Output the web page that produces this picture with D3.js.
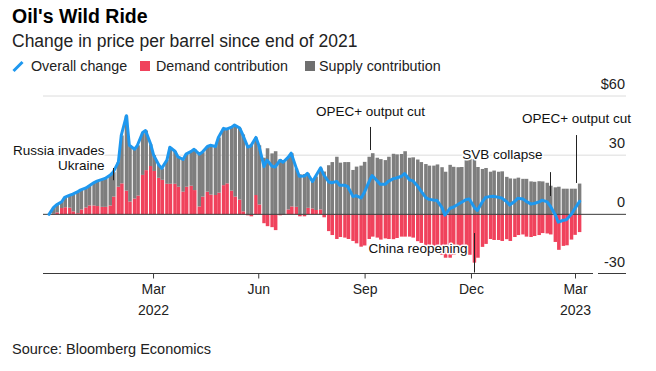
<!DOCTYPE html>
<html><head><meta charset="utf-8">
<script src="https://cdn.jsdelivr.net/npm/d3@7"></script>
<style>
body{margin:0;background:#fff;}
svg{display:block;font-family:"Liberation Sans",Arial,Helvetica,sans-serif;}
</style></head><body>
<svg id="c" width="656" height="371"></svg>
<script>
// ---------- DATA (two readings per week: Mon-Wed, Thu-Fri), $ per barrel vs end-2021 ----------
const startDate = "2021-12-31";      // origin, change = 0
const firstMonday = "2022-01-03";
const overall = [
 3.5,4.8, 6.4,8.6, 9.7,10.2, 11.5,12.4, 13.4,14.4, 16.1,16.8, 17.7,18.2, 19.9,21.4,
 26.5,40, 50,35, 33,35, 41.5,42.5, 35.5,30, 25,23.3, 27.5,34, 32,29.2,
 27.8,30.5, 31.9,33, 30.5,31.5, 34.4,35, 34.4,39, 43.6,43.2, 44.2,45.3, 43.7,40.5,
 34.1,34.6, 39,35, 24.2,27.5, 24.4,24, 27.4,26.4, 29,31, 23.3,19.3, 19.4,20.8,
 16.6,19.2, 23.6,20.2, 16.4,16, 16.7,14.7, 14.7,14, 9,9.5, 8.3,10.8, 16.7,19.7,
 16.9,15.2, 15.3,16.7, 18.1,18.4, 19.3,20.7, 17.4,17.1, 14.2,12, 8.5,7.6, 7.2,7.1,
 3.4,-0.4, 3.1,3.6, 5.1,6, 7.5,7.8, 3.5,2, 6.5,8.5, 9.1,9.2, 8.6,8.3,
 6.4,4.7, 6.6,8.1, 7.8,6.7, 5.2,5.5, 6.3,7.2, 6.3,4.3, -0.3,-4, -3,-2.7,
 0.2,2.6, 6.6
];
const demand = [
 0.3,1.0, 3.2,3.6, 3.4,1.5, 0.6,2.5, 3.5,4.5, 4.5,4.2, 3.8,3.8, 4.5,9,
 14,15.7, 12,6.5, 8,9.5, 20,22.4, 24.5,22, 18.5,17.5, 15.5,15.5, 15.5,14,
 11.5,14, 14.5,12.3, 4,9, 11.5,10, 9.8,11, 14.8,15.7, 12,9, 7.5,1.5,
 -0.5,-1, 9.8,5, -4.5,-6, -6.5,-8, -0.5,-0.3, 2.5,4, 3.8,-1, -1,3.3,
 3,2.2, 2.5,-1.5, -8.5,-10.5, -12.5,-11.5, -11.8,-12.5, -13.5,-14.7, -16.4,-15.8, -12.5,-11.3,
 -11.8,-12.8, -12.2,-12.5, -12.6,-12, -11.3,-11.3, -11.3,-11.8, -13.6,-14.5, -17,-17.1, -17.5,-18.2,
 -20.5,-22, -22,-20.5, -18.8,-18, -20,-20.5, -24.5,-22, -16.5,-15, -12.5,-13, -13,-13.5,
 -12.6,-13.5, -11.5,-10.5, -10.2,-11.3, -11.5,-11, -10.5,-9.5, -9.7,-10.2, -14,-18, -16,-15.7,
 -12.8,-10.4, -9
];
const seriesNames = ["Overall change","Demand contribution","Supply contribution"];
const tickDates = ["2022-03-31","2022-06-30","2022-09-30","2022-12-31","2023-03-31"];
const tickMonths = ["Mar","Jun","Sep","Dec","Mar"];
const tickYears = ["2022","","","","2023"];
const yTicks = [60,30,0,-30];
const yTickLabels = ["$60","30","0","-30"];
const events = [
  {date:"2022-02-24", lines:["Russia invades","Ukraine"], v0:23.5, v1:17.3},
  {date:"2022-10-05", lines:["OPEC+ output cut"], v0:44.3, v1:32.6},
  {date:"2023-01-03", lines:["China reopening"], v0:-9.5, v1:-29.5},
  {date:"2023-03-09", lines:["SVB collapse"], v0:21.4, v1:9.3},
  {date:"2023-04-01", lines:["OPEC+ output cut"], v0:40.2, v1:15.9}
];

// ---------- SETUP ----------
const parse = d3.timeParse("%Y-%m-%d");
const svg = d3.select("#c");
const colors = {overall:"#1e98ef", demand:"#f0425c", supply:"#7e7e7e"};

const x = d3.scaleTime().domain([parse(startDate), parse("2023-03-31")]).range([49, 575]);
const y = d3.scaleLinear().domain([-30, 60]).range([273.5, 96]);

const mon0 = parse(firstMonday);
const rows = overall.map((o, i) => {
  const k = Math.floor(i / 2), half = i % 2;
  const wk = d3.timeDay.offset(mon0, 7 * k);
  const center = half ? d3.timeHour.offset(wk, 84) : d3.timeHour.offset(wk, 24);
  const s = half ? d3.timeHour.offset(wk, 60) : d3.timeHour.offset(wk, -12);
  const e = half ? d3.timeHour.offset(wk, 4*24 + 12 + 26) : d3.timeHour.offset(wk, 60);
  return {date: center, start: s, end: e, overall: o, demand: demand[i], supply: o - demand[i]};
});

// gridlines
const gridG = svg.append("g");
[60, 30].forEach(v => gridG.append("line").attr("x1", 43).attr("x2", 626)
  .attr("y1", y(v)).attr("y2", y(v)).attr("stroke", "#dcdcdc").attr("stroke-width", 1));

// stacked bars
const stack = d3.stack().keys(["demand", "supply"]).offset(d3.stackOffsetDiverging);
const layers = stack(rows);
svg.append("g").selectAll("g").data(layers).join("g")
  .attr("fill", d => colors[d.key])
  .selectAll("rect").data(d => d).join("rect")
  .attr("x", d => x(d.data.start))
  .attr("width", d => Math.max(0, x(d.data.end) - x(d.data.start)))
  .attr("y", d => y(Math.max(d[0], d[1])))
  .attr("height", d => Math.abs(y(d[0]) - y(d[1])));

// zero line and bottom lines
svg.append("line").attr("x1", 43).attr("x2", 626).attr("y1", y(0)).attr("y2", y(0))
  .attr("stroke", "#3a3a3a").attr("stroke-width", 1);
svg.append("line").attr("x1", 598).attr("x2", 626).attr("y1", y(-30)).attr("y2", y(-30))
  .attr("stroke", "#3a3a3a").attr("stroke-width", 1);

// overall line
const lineData = [{date: parse(startDate), overall: 0}].concat(rows);
svg.append("path").datum(lineData)
  .attr("fill", "none").attr("stroke", colors.overall).attr("stroke-width", 3)
  .attr("stroke-linejoin", "round").attr("stroke-linecap", "round")
  .attr("d", d3.line().x(d => x(d.date)).y(d => y(d.overall)));

// x axis
const xAxis = d3.axisBottom(x).tickValues(tickDates.map(parse)).tickSize(5).tickFormat("");
const xg = svg.append("g").attr("transform", `translate(0,${y(-30)})`).call(xAxis);
xg.select(".domain").remove();
svg.append("line").attr("x1", 43).attr("x2", 593).attr("y1", y(-30)).attr("y2", y(-30))
  .attr("stroke", "#3a3a3a").attr("stroke-width", 1);
xg.selectAll(".tick line").attr("stroke", "#3a3a3a");
xg.selectAll(".tick").each(function(d, i) {
  const t = d3.select(this).append("text").attr("fill", "#222").attr("font-size", 14)
    .attr("text-anchor", "middle");
  t.append("tspan").attr("x", 0).attr("y", 20).text(tickMonths[i]);
  if (tickYears[i]) t.append("tspan").attr("x", 0).attr("y", 41).text(tickYears[i]);
});

// y axis labels
const yAxis = d3.axisLeft(y).tickValues(yTicks).tickSize(0).tickPadding(0)
  .tickFormat((d, i) => yTickLabels[i]);
const yg = svg.append("g").attr("transform", "translate(625,0)").call(yAxis);
yg.select(".domain").remove();
yg.selectAll("text").attr("font-size", 14.5).attr("fill", "#222")
  .attr("font-family", "'Liberation Sans',Arial,sans-serif").attr("dy", -7.5);

// annotations
const annG = svg.append("g").attr("font-size", 13.5).attr("fill", "#111");
function ann(ev, opts) {
  const xx = Math.round(x(parse(ev.date))) + 0.5;
  annG.append("line").attr("x1", xx).attr("x2", xx).attr("y1", y(ev.v0)).attr("y2", y(ev.v1))
    .attr("stroke", "#222").attr("stroke-width", 1);
  ev.lines.forEach((ln, j) => {
    const t = annG.append("text").attr("x", opts.x(xx)).attr("y", opts.y + j * 14.5)
      .attr("text-anchor", opts.anchor).text(ln);
    if (opts.halo) t.attr("stroke", "#fff").attr("stroke-width", 3).attr("paint-order", "stroke")
      .attr("stroke-linejoin", "round");
  });
}
ann(events[0], {x: xx => xx - 9, y: 155, anchor: "end", halo: true});
ann(events[1], {x: xx => xx, y: 116, anchor: "middle"});
ann(events[2], {x: xx => xx - 7, y: 253, anchor: "end", halo: true});
ann(events[3], {x: xx => xx - 8, y: 159, anchor: "end", halo: true});
ann(events[4], {x: xx => xx, y: 123, anchor: "middle"});

// titles
svg.append("text").attr("x", 12).attr("y", 23).attr("font-size", 19.5).attr("font-weight", "bold")
  .attr("fill", "#000").text("Oil's Wild Ride");
svg.append("text").attr("x", 12).attr("y", 47).attr("font-size", 17.5).attr("fill", "#222")
  .text("Change in price per barrel since end of 2021");

// legend
const lg = svg.append("g").attr("font-size", 14.3).attr("fill", "#222");
lg.append("line").attr("x1", 13.5).attr("y1", 71).attr("x2", 22.5).attr("y2", 62)
  .attr("stroke", colors.overall).attr("stroke-width", 3).attr("stroke-linecap", "butt");
lg.append("text").attr("x", 31).attr("y", 71).text(seriesNames[0]);
lg.append("rect").attr("x", 140).attr("y", 61).attr("width", 10).attr("height", 10).attr("fill", colors.demand);
lg.append("text").attr("x", 156).attr("y", 71).text(seriesNames[1]);
lg.append("rect").attr("x", 305).attr("y", 61).attr("width", 10).attr("height", 10).attr("fill", "#6f6f6f");
lg.append("text").attr("x", 319).attr("y", 71).text(seriesNames[2]);

// source
svg.append("text").attr("x", 12).attr("y", 354).attr("font-size", 14.5).attr("fill", "#222")
  .text("Source: Bloomberg Economics");
</script></body></html>
